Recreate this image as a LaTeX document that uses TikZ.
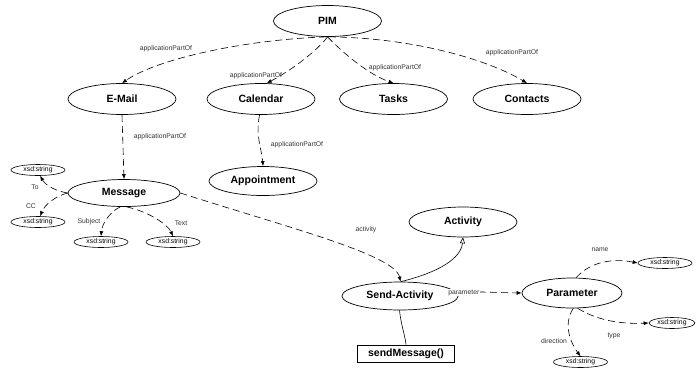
\documentclass[tikz,border=0pt]{standalone}
\usepackage{fontspec}
\setmainfont{Liberation Sans}
\usetikzlibrary{shapes.geometric,arrows.meta}
\begin{document}
\begin{tikzpicture}[x=1pt,y=-1pt,
 cls/.style={ellipse,draw,line width=0.7pt,inner sep=0pt,font=\fontsize{10.5}{12}\selectfont\bfseries},
 big/.style={cls,minimum width=108pt,minimum height=31pt},
 lit/.style={ellipse,draw,line width=0.6pt,inner sep=0pt,minimum width=54pt,minimum height=11pt,font=\fontsize{6.8}{8}\selectfont},
 rel/.style={draw,line width=0.6pt,dash pattern=on 7pt off 4pt,-{Latex[length=5pt,width=4pt]}},
 lab/.style={font=\fontsize{6.8}{8}\selectfont,text=black!80,inner sep=1pt}]
\useasboundingbox (0,0) rectangle (696,368);
% nodes
\node[big] (pim) at (327.5,21) {PIM};
\node[big] (email) at (122,99) {E-Mail};
\node[big] (cal) at (261,99) {Calendar};
\node[big] (tasks) at (393.5,99) {Tasks};
\node[big] (cont) at (527,99) {Contacts};
\node[cls,minimum width=112pt,minimum height=27pt] (msg) at (124,193) {Message};
\node[big,minimum height=29pt] (appt) at (263,181) {Appointment};
\node[lit] (xto) at (38,170) {xsd:string};
\node[lit] (xcc) at (38,222) {xsd:string};
\node[lit] (xsub) at (101,242) {xsd:string};
\node[lit] (xtext) at (173,242) {xsd:string};
\node[big,minimum height=30pt] (act) at (463,222) {Activity};
\node[cls,minimum width=116pt,minimum height=28pt] (send) at (400,296) {Send-Activity};
\node[draw,line width=1pt,minimum width=97pt,minimum height=17pt,inner sep=0pt,font=\fontsize{10.5}{12}\selectfont\bfseries] (sm) at (406,353.5) {sendMessage()};
\node[cls,minimum width=100pt,minimum height=30pt] (par) at (572,293) {Parameter};
\node[lit] (xname) at (665,263) {xsd:string};
\node[lit,minimum width=46pt] (xtype) at (672,323) {xsd:string};
\node[lit] (xdir) at (580.5,362) {xsd:string};
% PIM edges
\draw[rel] (pim.265) .. controls (240,40) and (155,60) .. (email.north);
\node[lab] at (166,49) {applicationPartOf};
\draw[rel] (pim.south) .. controls (318,50) and (292,70) .. (cal.70);
\node[lab] at (256,76) {applicationPartOf};
\draw[rel] (pim.south) .. controls (345,55) and (370,75) .. (tasks.north);
\node[lab] at (395,68) {applicationPartOf};
\draw[rel] (pim.275) .. controls (420,38) and (492,62) .. (cont.north);
\node[lab] at (512,53) {applicationPartOf};
% E-Mail / Calendar
\draw[rel] (email.south) -- (msg.north);
\node[lab] at (160,137) {applicationPartOf};
\draw[rel] (cal.265) .. controls (255,135) and (262,150) .. (appt.north);
\node[lab] at (297,145) {applicationPartOf};
% Message edges
\draw[rel] (msg.west) .. controls (56,191) and (46,186) .. (xto.-70);
\node[lab] at (35,187) {To};
\draw[rel] (msg.west) .. controls (56,196) and (45,204) .. (xcc.70);
\node[lab] at (31,206) {CC};
\draw[rel] (msg.255) .. controls (108,213) and (102,225) .. (xsub.north);
\node[lab] at (89,222) {Subject};
\draw[rel] (msg.280) .. controls (150,212) and (168,225) .. (xtext.90);
\node[lab] at (181,223) {Text};
\draw[rel] (msg.east) .. controls (290,228) and (395,255) .. (send.88);
\node[lab] at (366,230) {activity};
% Send-Activity
\draw[line width=0.6pt,-{Triangle[open,length=6pt,width=5pt]}] (send.87) .. controls (440,272) and (461,258) .. (act.south);
\draw[line width=0.6pt] (send.268) .. controls (401,325) and (405,335) .. (sm.north);
\draw[rel] (send.east) .. controls (462,290) and (470,292) .. (par.west)
  node[lab,pos=0.3,fill=white] {parameter};
% Parameter edges
\draw[rel] (par.75) .. controls (590,262) and (612,258) .. (xname.west);
\node[lab] at (600,250) {name};
\draw[rel] (par.290) .. controls (600,322) and (625,324) .. (xtype.west);
\node[lab] at (614,336) {type};
\draw[rel] (par.275) .. controls (562,325) and (572,345) .. (xdir.north);
\node[lab] at (554,341) {direction};
\end{tikzpicture}
\end{document}
